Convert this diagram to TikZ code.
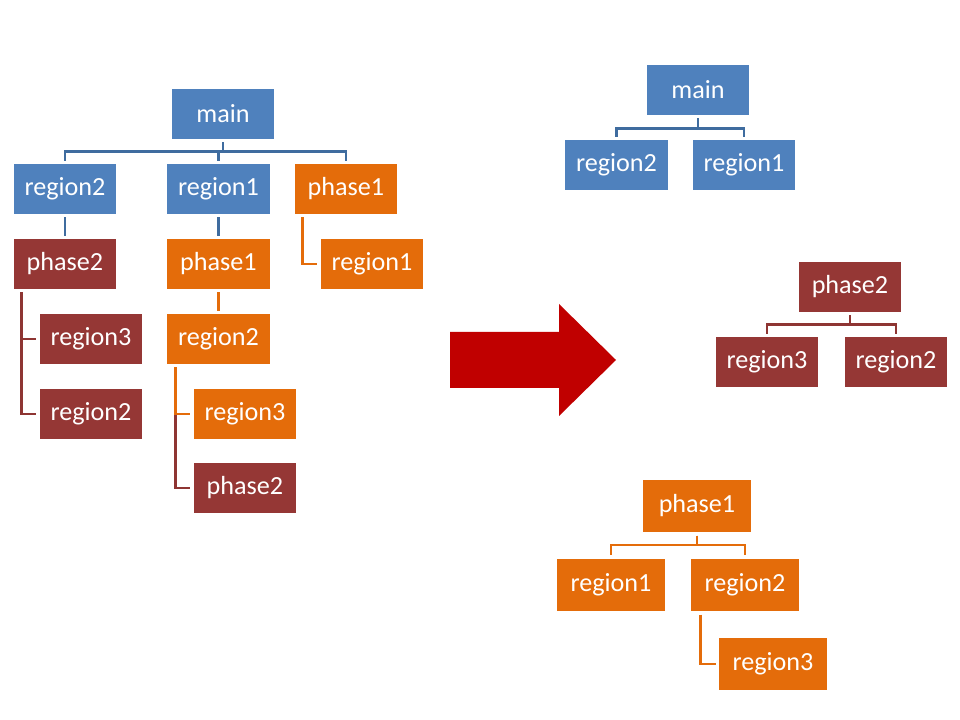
\documentclass[tikz,border=0pt]{standalone}
\usepackage{fontspec}
\setmainfont{Carlito}
\definecolor{boxblue}{HTML}{4F81BD}
\definecolor{boxred}{HTML}{953735}
\definecolor{boxorange}{HTML}{E46C0A}
\definecolor{lineblue}{HTML}{3F6C9F}
\definecolor{linered}{HTML}{8E3533}
\definecolor{arrowred}{HTML}{C00000}
\tikzset{
  box/.style={inner sep=0pt, minimum width=2.56cm, minimum height=1.24cm, text=white,
    font=\fontsize{18.6}{22}\selectfont},
  bbox/.style={box, fill=boxblue},
  rbox/.style={box, fill=boxred},
  obox/.style={box, fill=boxorange},
  big/.style={minimum width=2.69cm, minimum height=1.31cm},
  conn/.style={line width=2.1pt, shorten <=2.2pt, shorten >=2.2pt},
  bline/.style={conn, draw=lineblue},
  rline/.style={conn, draw=linered},
  oline/.style={conn, draw=boxorange}
}
\begin{document}
\begin{tikzpicture}[x=0.025cm, y=-0.025cm]
	\useasboundingbox (0,0) rectangle (960,720);
	% left tree
	\node[bbox] (lmain) at (223,114) {main};
	\node[bbox] (lreg2) at (65,189) {region2};
	\node[bbox] (lreg1) at (218.5,189) {region1};
	\node[obox] (lph1) at (346,189) {phase1};
	\node[rbox] (lph2) at (65,264) {phase2};
	\node[obox] (lph1b) at (218.5,264) {phase1};
	\node[obox] (lreg1b) at (372,264) {region1};
	\node[rbox] (lreg3c) at (91,339) {region3};
	\node[rbox] (lreg2c) at (91,414) {region2};
	\node[obox] (lreg2d) at (218.5,339) {region2};
	\node[obox] (lreg3d) at (245,414) {region3};
	\node[rbox] (lph2d) at (245,488) {phase2};
	\draw[bline] (lmain.south) -- ++(0,12.5) -| (lreg2.north);
	\draw[bline] (lmain.south) -- ++(0,12.5) -| (lreg1.north);
	\draw[bline] (lmain.south) -- ++(0,12.5) -| (lph1.north);
	\draw[bline] (lreg2) -- (lph2);
	\draw[bline] (lreg1) -- (lph1b);
	\draw[oline] ([xshift=0.2cm]lph1.south west) |- (lreg1b.west);
	\draw[rline] ([xshift=0.2cm]lph2.south west) |- (lreg3c.west);
	\draw[rline] ([xshift=0.2cm]lph2.south west) |- (lreg2c.west);
	\draw[oline] (lph1b) -- (lreg2d);
	\draw[rline] ([xshift=0.22cm]lreg2d.south west) |- (lph2d.west);
	\draw[oline] ([xshift=0.22cm]lreg2d.south west) |- (lreg3d.west);
	% arrow
	\fill[arrowred] (450,332) -- (559,332) -- (559,304) -- (616,360) -- (559,416) -- (559,388) -- (450,388) -- cycle;
	% right trees
	\node[bbox] (rmain) at (698,90) {main};
	\node[bbox] (rreg2) at (616.5,165) {region2};
	\node[bbox] (rreg1) at (744,165) {region1};
	\draw[bline] (rmain.south) -- ++(0,13) -| (rreg2.north);
	\draw[bline] (rmain.south) -- ++(0,13) -| (rreg1.north);
	\node[rbox] (rph2) at (850,287) {phase2};
	\node[rbox] (rreg3) at (767,362) {region3};
	\node[rbox] (rreg2b) at (896,362) {region2};
	\draw[rline] (rph2.south) -- ++(0,12.5) -| (rreg3.north);
	\draw[rline] (rph2.south) -- ++(0,12.5) -| (rreg2b.north);
	\node[obox, big] (rph1) at (697,506) {phase1};
	\node[obox, big] (rreg1c) at (611,585) {region1};
	\node[obox, big] (rreg2c) at (745,585) {region2};
	\node[obox, big] (rreg3c) at (773,664) {region3};
	\draw[oline] (rph1.south) -- ++(0,12.5) -| (rreg1c.north);
	\draw[oline] (rph1.south) -- ++(0,12.5) -| (rreg2c.north);
	\draw[oline] ([xshift=0.25cm]rreg2c.south west) |- (rreg3c.west);
\end{tikzpicture}
\end{document}
